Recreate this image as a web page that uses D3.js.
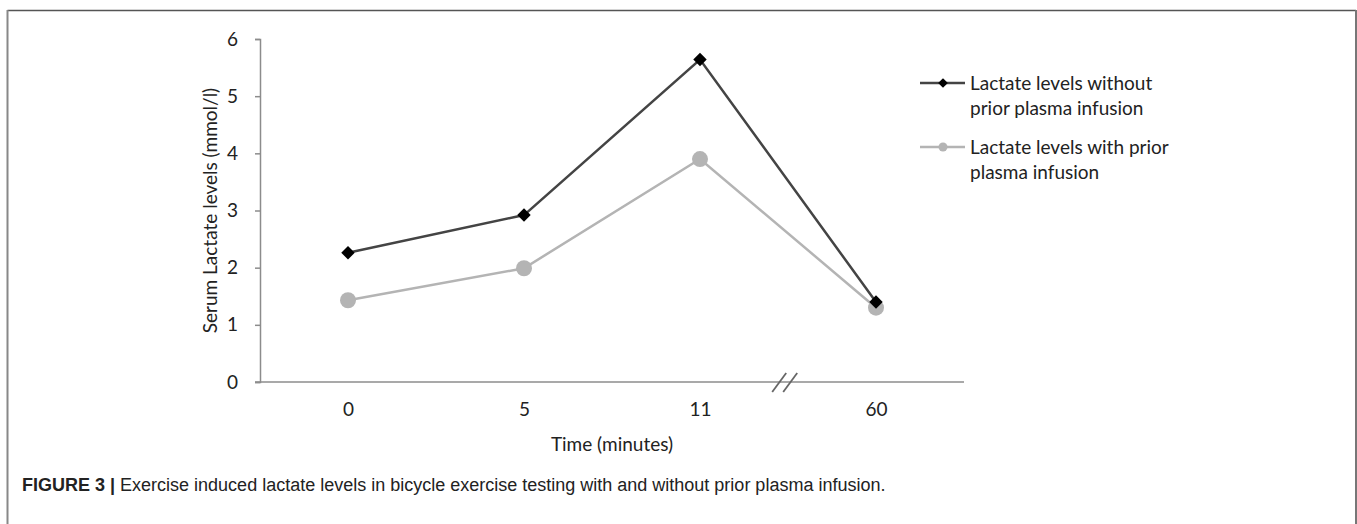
<!DOCTYPE html>
<html>
<head>
<meta charset="utf-8">
<script src="https://cdn.jsdelivr.net/npm/d3@7"></script>
<style>
    body { margin: 0; background: #fff; }
    svg text { font-family: Lato, "Open Sans", sans-serif; fill: #222; }
    .caption { font-family: "Liberation Sans", Arial, sans-serif; }
</style>
</head>
<body>
<div id="chart"></div>
<script>
// data
const timeLabels = ['0', '5', '11', '60'];
const withoutPlasma = [2.26, 2.92, 5.64, 1.4];
const withPlasma = [1.43, 1.99, 3.9, 1.3];
const yTicks = [0, 1, 2, 3, 4, 5, 6];
const seriesNames = [
    ['Lactate levels without', 'prior plasma infusion'],
    ['Lactate levels with prior', 'plasma infusion']
];

window.addEventListener('DOMContentLoaded', function () {
    const w = 1357,
        h = 524,
        fs = '19px',
        plot = { left: 260, right: 964, top: 39, bottom: 382 };

    const svg = d3.select('#chart')
        .append('svg')
        .attr('width', w)
        .attr('height', h);

    // frame around the figure
    svg.append('line').attr('x1', 7.5).attr('x2', 1356).attr('y1', 10.5).attr('y2', 10.5)
        .attr('stroke', '#555').attr('stroke-width', 1.5);
    svg.append('line').attr('x1', 7.5).attr('x2', 7.5).attr('y1', 10).attr('y2', h)
        .attr('stroke', '#888').attr('stroke-width', 2);
    svg.append('line').attr('x1', 1356).attr('x2', 1356).attr('y1', 10).attr('y2', h)
        .attr('stroke', '#777').attr('stroke-width', 2);

    const xScale = d3.scalePoint()
        .domain(timeLabels)
        .range([plot.left, plot.right])
        .padding(0.5);

    const yScale = d3.scaleLinear()
        .domain([0, 6])
        .range([plot.bottom, plot.top]);

    // y axis
    const yAxis = d3.axisLeft(yScale).tickValues(yTicks).tickFormat(d3.format('d'))
        .tickSize(5).tickPadding(17);
    const gy = svg.append('g')
        .attr('transform', 'translate(' + plot.left + ',0)')
        .call(yAxis);
    gy.select('.domain').attr('stroke', '#8c8c8c').attr('stroke-width', 1.5);
    gy.selectAll('.tick line').attr('stroke', '#8c8c8c').attr('stroke-width', 1.5);
    gy.selectAll('.tick text').style('font-size', fs).attr('fill', '#222');

    // x axis
    const xAxis = d3.axisBottom(xScale).tickSize(0).tickPadding(21);
    const gx = svg.append('g')
        .attr('transform', 'translate(0,' + plot.bottom + ')')
        .call(xAxis);
    gx.select('.domain').attr('stroke', '#8c8c8c').attr('stroke-width', 1.5)
        .attr('d', 'M' + (plot.left - 5) + ',0H' + plot.right);
    gx.selectAll('.tick text').style('font-size', fs).attr('fill', '#222');

    // axis break between 11 and 60
    const bx = xScale('11') + xScale.step() * 0.45;
    [0, 11].forEach(function (off) {
        svg.append('line')
            .attr('x1', bx + off - 7).attr('y1', plot.bottom + 10)
            .attr('x2', bx + off + 7).attr('y2', plot.bottom - 9)
            .attr('stroke', '#666').attr('stroke-width', 1.8);
    });

    // axis titles
    svg.append('text')
        .attr('transform', 'translate(' + 210 + ',' + ((plot.top + plot.bottom) / 2) + ') rotate(-90)')
        .attr('text-anchor', 'middle')
        .attr('dy', '0.35em')
        .style('font-size', fs)
        .text('Serum Lactate levels (mmol/l)');

    svg.append('text')
        .attr('x', (plot.left + plot.right) / 2)
        .attr('y', 451)
        .attr('text-anchor', 'middle')
        .style('font-size', fs)
        .text('Time (minutes)');

    const line = d3.line()
        .x((d, i) => xScale(timeLabels[i]))
        .y(d => yScale(d));

    const diamond = d3.symbol().type(d3.symbolDiamond2).size(115);

    // series with prior plasma (grey circles)
    svg.append('path')
        .datum(withPlasma)
        .attr('d', line)
        .attr('fill', 'none')
        .attr('stroke', '#b4b4b4')
        .attr('stroke-width', 2.5);
    svg.selectAll('.dot')
        .data(withPlasma)
        .enter()
        .append('circle')
        .attr('class', 'dot')
        .attr('cx', (d, i) => xScale(timeLabels[i]))
        .attr('cy', d => yScale(d))
        .attr('r', 8)
        .attr('fill', '#b4b4b4');

    // series without plasma (black diamonds)
    svg.append('path')
        .datum(withoutPlasma)
        .attr('d', line)
        .attr('fill', 'none')
        .attr('stroke', '#444')
        .attr('stroke-width', 2.5);
    svg.selectAll('.dia')
        .data(withoutPlasma)
        .enter()
        .append('path')
        .attr('class', 'dia')
        .attr('transform', (d, i) => 'translate(' + xScale(timeLabels[i]) + ',' + yScale(d) + ')')
        .attr('d', diamond)
        .attr('fill', '#000');

    // legend
    const legend = [
        { stroke: '#444', marker: 'diamond', y: 83 },
        { stroke: '#b4b4b4', marker: 'circle', y: 147 }
    ];
    legend.forEach(function (l, i) {
        const g = svg.append('g');
        g.append('line')
            .attr('x1', 920).attr('x2', 965)
            .attr('y1', l.y).attr('y2', l.y)
            .attr('stroke', l.stroke).attr('stroke-width', 2.5);
        if (l.marker === 'diamond') {
            g.append('path')
                .attr('transform', 'translate(943,' + l.y + ')')
                .attr('d', d3.symbol().type(d3.symbolDiamond2).size(60))
                .attr('fill', '#000');
        } else {
            g.append('circle')
                .attr('cx', 943).attr('cy', l.y).attr('r', 4.5)
                .attr('fill', '#b4b4b4');
        }
        seriesNames[i].forEach(function (t, j) {
            g.append('text')
                .attr('x', 970)
                .attr('y', l.y + 7 + j * 25)
                .style('font-size', fs)
                .text(t);
        });
    });

    // caption
    const cap = svg.append('text')
        .attr('class', 'caption')
        .attr('x', 22)
        .attr('y', 491)
        .style('font-size', '18px')
        .attr('fill', '#333');
    cap.append('tspan').attr('font-weight', 'bold').text('FIGURE 3 | ');
    cap.append('tspan').text('Exercise induced lactate levels in bicycle exercise testing with and without prior plasma infusion.');
});
</script>
</body>
</html>
